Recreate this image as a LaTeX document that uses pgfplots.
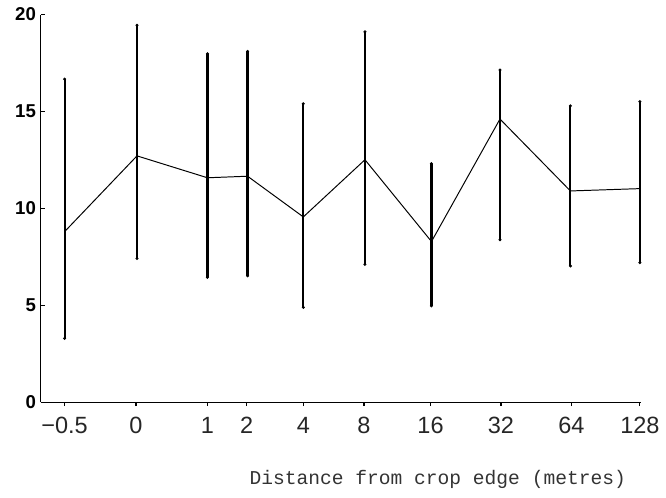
\documentclass[border=0pt]{standalone}
\usepackage{fontspec}
\setmainfont{Liberation Sans}
\newfontfamily\monofont{Liberation Mono}
\usepackage{pgfplots}
\pgfplotsset{compat=1.18}
\begin{document}
\begin{tikzpicture}[x=1pt,y=1pt]
\begin{axis}[
  anchor=origin, at={(0,0)},
  scale only axis,
  width=306.6pt, height=197.9pt,
  xmin=41.7, xmax=655.5,
  ymin=0, ymax=20,
  axis x line=bottom, axis y line=left,
  axis line style={line width=0.5pt, -},
  ytick={0,5,10,15,20},
  xtick={66,139,212,252,310,372,440,512,584,654},
  xticklabels={−0.5,0,1,2,4,8,16,32,64,128},
  xtick align=outside, ytick align=inside,
  major tick length=2pt,
  tick style={line width=0.6pt, black},
  /pgf/number format/assume math mode=true,
  yticklabel style={font=\fontsize{9.5}{10}\selectfont\bfseries, xshift=1pt},
  xticklabel style={font=\fontsize{12}{14}\selectfont, yshift=-2pt, text=black!85},
  xlabel={\monofont\fontsize{10}{12}\selectfont Distance from crop edge (metres)},
  xlabel style={at={(axis description cs:0.661,0)}, anchor=center, yshift=-39.6pt, text=black!80},
  clip=false,
]
\addplot[black, line width=0.5pt, mark=none,
  error bars/.cd, y dir=both, y explicit,
  error bar style={line width=1.1pt, black},
  error mark=*, error mark options={mark size=0.55pt, black}]
coordinates {
  (66,8.80)  += (0,7.87) -= (0,5.51)
  (140,12.71) += (0,6.74) -= (0,5.29)
  (212,11.58) += (0,6.40) -= (0,5.14)
  (253,11.66) += (0,6.44) -= (0,5.14)
  (310,9.56) += (0,5.84) -= (0,4.67)
  (373,12.51) += (0,6.60) -= (0,5.40)
  (441,8.29) += (0,4.02) -= (0,3.32)
  (511,14.61) += (0,2.53) -= (0,6.23)
  (583,10.90) += (0,4.39) -= (0,3.87)
  (654,11.02) += (0,4.49) -= (0,3.82)
};
\end{axis}
\useasboundingbox (-20.85pt,-48.65pt) rectangle (312.15pt,205.35pt);
\end{tikzpicture}
\end{document}
